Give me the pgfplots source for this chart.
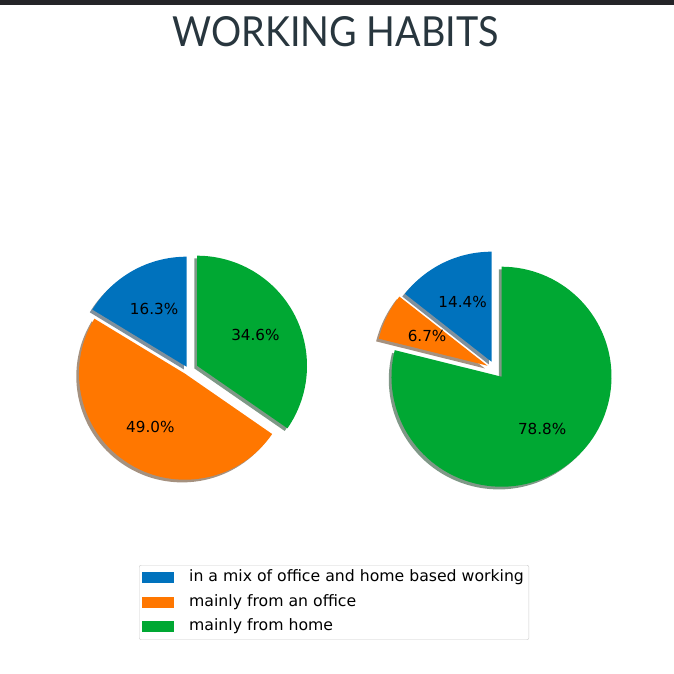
\documentclass[border=0pt]{standalone}
\usepackage{pgfplots}
\usepackage{pgfplotstable}
\pgfplotsset{compat=1.18}
\usepackage{fontspec}
\setmainfont{DejaVu Sans}
\newfontfamily\titlefont{Lato}

\definecolor{cblue}{RGB}{0,114,189}
\definecolor{corange}{RGB}{255,119,0}
\definecolor{cgreen}{RGB}{0,168,51}
\definecolor{ctitle}{RGB}{40,54,62}
\definecolor{cbar}{RGB}{36,36,40}

% share of each answer, offset of the wedge (dx, dy), radius, colour
\pgfplotstableread{
pct  dx    dy   r    color
16.3 0.0   0.0  110  cblue
49.0 -1.5  -7.0 106  corange
34.6 10.5  1.0  110  cgreen
}\leftpie
\pgfplotstableread{
pct  dx    dy    r    color
14.4 0.0   0.0   110  cblue
6.7  -4.0  -4.0  112  corange
78.8 10.0  -15.0 110  cgreen
}\rightpie

\newcommand\pielabelfont{\fontsize{15.2}{18}\selectfont}

% #1 table, #2 centre x, #3 centre y (axis units = pt)
\newcommand\drawpie[3]{%
  \pgfplotstablegetrowsof{#1}\let\pierows\pgfplotsretval
  \pgfmathtruncatemacro\pielast{\pierows-1}%
  \def\pietotal{0}%
  \pgfplotsforeachungrouped \i in {0,...,\pielast}{%
    \pgfplotstablegetelem{\i}{pct}\of{#1}%
    \pgfmathsetmacro\pietotal{\pietotal+\pgfplotsretval}%
  }%
  % shadows first, below every wedge
  \def\pieangle{90}%
  \pgfplotsforeachungrouped \i in {0,...,\pielast}{%
    \pgfplotstablegetelem{\i}{pct}\of{#1}\let\piepct\pgfplotsretval
    \pgfplotstablegetelem{\i}{dx}\of{#1}\let\piedx\pgfplotsretval
    \pgfplotstablegetelem{\i}{dy}\of{#1}\let\piedy\pgfplotsretval
    \pgfplotstablegetelem{\i}{r}\of{#1}\let\pier\pgfplotsretval
    \pgfplotstablegetelem{\i}{color}\of{#1}\let\piecol\pgfplotsretval
    \pgfmathsetmacro\pieend{\pieangle+\piepct/\pietotal*360}%
    \pgfmathsetmacro\piex{#2+\piedx-2.7}%
    \pgfmathsetmacro\piey{#3+\piedy-2.7}%
    \edef\pietmp{\noexpand\fill[\piecol!30!black,opacity=0.5]
      (axis cs:\piex,\piey) -- ++(\pieangle:\pier pt)
      arc[start angle=\pieangle,end angle=\pieend,radius=\pier pt] -- cycle;}%
    \pietmp
    \let\pieangle\pieend
  }%
  % wedges and their labels
  \def\pieangle{90}%
  \pgfplotsforeachungrouped \i in {0,...,\pielast}{%
    \pgfplotstablegetelem{\i}{pct}\of{#1}\let\piepct\pgfplotsretval
    \pgfplotstablegetelem{\i}{dx}\of{#1}\let\piedx\pgfplotsretval
    \pgfplotstablegetelem{\i}{dy}\of{#1}\let\piedy\pgfplotsretval
    \pgfplotstablegetelem{\i}{r}\of{#1}\let\pier\pgfplotsretval
    \pgfplotstablegetelem{\i}{color}\of{#1}\let\piecol\pgfplotsretval
    \pgfmathsetmacro\pieend{\pieangle+\piepct/\pietotal*360}%
    \pgfmathsetmacro\piemid{(\pieangle+\pieend)/2}%
    \pgfmathsetmacro\piex{#2+\piedx}%
    \pgfmathsetmacro\piey{#3+\piedy}%
    \pgfmathsetmacro\pielx{\piex+0.6*\pier*cos(\piemid)}%
    \pgfmathsetmacro\piely{\piey+0.6*\pier*sin(\piemid)}%
    \edef\pietmp{\noexpand\fill[\piecol]
      (axis cs:\piex,\piey) -- ++(\pieangle:\pier pt)
      arc[start angle=\pieangle,end angle=\pieend,radius=\pier pt] -- cycle;
      \noexpand\node[font=\noexpand\pielabelfont,inner sep=0pt]
      at (axis cs:\pielx,\piely) {\piepct\noexpand\%};}%
    \pietmp
    \let\pieangle\pieend
  }%
}

\begin{document}
\begin{tikzpicture}
\begin{axis}[
    width=674pt, height=673pt,
    scale only axis,
    xmin=0, xmax=674, ymin=0, ymax=673,
    hide axis,
    clip=false,
    legend image code/.code={\fill[sharp corners,#1] (0pt,-5.5pt) rectangle (32pt,5.5pt);},
    legend style={
        at={(axis cs:139,108)}, anchor=north west,
        draw=black!20, rounded corners=2pt,
        font=\fontsize{15.7}{18}\selectfont,
        inner xsep=3pt, inner ysep=3pt,
        nodes={inner sep=2pt, text height=11.5pt, text depth=4pt},
        row sep=5pt,
        /tikz/every odd column/.append style={column sep=13pt},
    },
    legend cell align=left,
]
\path (axis cs:0,0) rectangle (axis cs:674,673);
\fill[cbar] (axis cs:0,667.5) rectangle (axis cs:674,673);
\node[text=ctitle, inner sep=0pt] at (axis cs:335.5,641.5)
    {\resizebox{326pt}{30pt}{\titlefont WORKING HABITS}};

\drawpie{\leftpie}{186.5}{306.3}
\drawpie{\rightpie}{491.5}{311.3}

\addlegendimage{fill=cblue,draw=none}
\addlegendentry{in a mix of office and home based working}
\addlegendimage{fill=corange,draw=none}
\addlegendentry{mainly from an office}
\addlegendimage{fill=cgreen,draw=none}
\addlegendentry{mainly from home}
\end{axis}
\end{tikzpicture}
\end{document}
